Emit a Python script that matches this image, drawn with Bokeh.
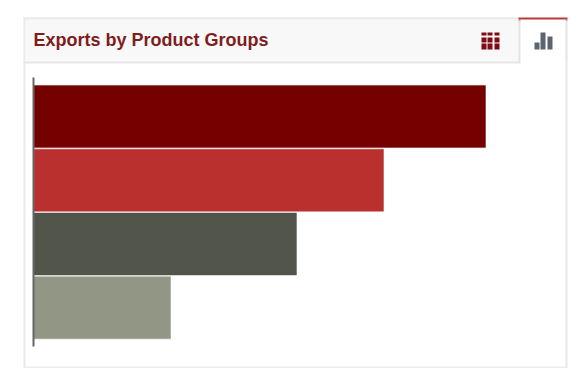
from bokeh.embed import file_html
from bokeh.resources import INLINE
from bokeh.plotting import figure
from bokeh.models import BoxAnnotation, ColumnDataSource, Label, Range1d

# Export totals per product group, largest first
title_text = "Exports by Product Groups"
groups = ["Group 1", "Group 2", "Group 3", "Group 4"]
exports = [452, 350, 263, 137]
bar_colors = ["#750000", "#b9302e", "#52554a", "#929684"]

W, H = 577, 368
AXIS_X = 33          # page x of the zero line
BAND = 63.75         # page pixels per group
FIRST_CENTRE = 116   # page y of the first group's centre

p = figure(
    width=W, height=H, output_backend="svg", toolbar_location=None,
    x_range=Range1d(-AXIS_X, W - AXIS_X),
    y_range=Range1d((H - FIRST_CENTRE) / BAND, -FIRST_CENTRE / BAND),
    min_border_left=0, min_border_right=0, min_border_top=0, min_border_bottom=0,
    outline_line_color=None, background_fill_color="#ffffff", border_fill_color="#ffffff",
)
p.grid.visible = False
p.xaxis.visible = False
p.yaxis.visible = False


def screen_box(left, right, top, bottom, color, level="underlay"):
    # Page pixel coordinates; annotation screen units count y upward from the frame's bottom
    p.add_layout(BoxAnnotation(
        left=left, right=right, top=H - top, bottom=H - bottom,
        left_units="screen", right_units="screen", top_units="screen", bottom_units="screen",
        fill_color=color, fill_alpha=1, line_color=None, level=level,
        editable=False,
    ))


# Panel frame
screen_box(23, 25, 17, 368, "#eaeaea")
screen_box(565, 567, 62, 368, "#e8e8e8")
screen_box(23, 519, 17, 19, "#e6e6e6")
screen_box(25, 519, 19, 61, "#f8f8f8")
screen_box(23, 519, 61, 63, "#e6e6e6")
screen_box(518, 520, 19, 63, "#e4e4e4")
screen_box(565, 567, 19, 62, "#e4e4e4")
screen_box(23, 567, 366, 368, "#ececec")
# Active tab marker with its small corner drops
screen_box(518, 567, 17, 19, "#b93a3a")
screen_box(518, 520, 19, 20, "#c9696b")
screen_box(565, 567, 19, 20, "#c9696b")

# Table icon in the header
for top, bottom in ((32, 35), (37, 42), (43, 49)):
    for left, right in ((481, 486), (487, 492), (494, 499)):
        screen_box(left, right, top, bottom, "#7d0a14", "overlay")

# Chart icon on the active tab
for left, right, top in zip((534, 540, 547), (539, 545, 552), (42, 32, 36)):
    screen_box(left, right, top, 49, "#5b6470", "overlay")

p.hbar(
    y="rank", right="value", left=0, height=0.975, color="color",
    line_alpha=0.4, line_width=1,
    source=ColumnDataSource(dict(rank=list(range(len(groups))), value=exports, color=bar_colors)),
)

# Vertical axis line
screen_box(32, 34, 77, 346, "#666666", "overlay")

p.add_layout(Label(
    x=33, y=H - 39, x_units="screen", y_units="screen", text=title_text,
    text_font="Liberation Sans", text_font_style="bold", text_font_size="18px",
    text_color="#7f1d1d", text_baseline="middle",
))

open("out.html", "w").write(file_html(p, INLINE))
